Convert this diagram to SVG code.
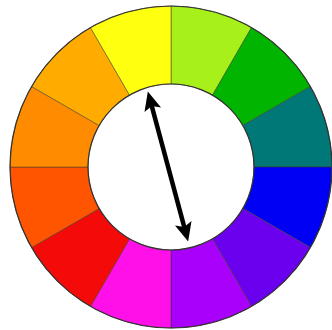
<svg xmlns="http://www.w3.org/2000/svg" width="332" height="330" viewBox="0 0 332 330">
  <defs>
    <style>
      .seg { stroke: #3a3a2a; stroke-width: 0.5; stroke-linejoin: round; }
      .rim { fill: none; stroke: #333; stroke-width: 1.2; }
      .arrow { stroke: #000; stroke-width: 4.5; fill: none; }
    </style>
    <marker id="head" viewBox="0 0 10 10" refX="5" refY="5" markerWidth="19" markerHeight="19" markerUnits="userSpaceOnUse" orient="auto-start-reverse">
      <path d="M0,0.5 L10,5 L0,9.5 L2,5 z" fill="#000"/>
    </marker>
  </defs>
  <rect width="332" height="330" fill="#fff"/>
  <g id="wheel">
    <g id="yellow-green"><path class="seg" fill="#a8f01a" d="M171,6 A161,161 0 0 1 251.5,27.57 L212.5,95.12 A83,83 0 0 0 171,84 Z"/></g>
    <g id="green"><path class="seg" fill="#00b400" d="M251.5,27.57 A161,161 0 0 1 310.43,86.5 L242.88,125.5 A83,83 0 0 0 212.5,95.12 Z"/></g>
    <g id="teal"><path class="seg" fill="#007878" d="M310.43,86.5 A161,161 0 0 1 332,167 L254,167 A83,83 0 0 0 242.88,125.5 Z"/></g>
    <g id="blue"><path class="seg" fill="#0000f5" d="M332,167 A161,161 0 0 1 310.43,247.5 L242.88,208.5 A83,83 0 0 0 254,167 Z"/></g>
    <g id="blue-violet"><path class="seg" fill="#6a00ee" d="M310.43,247.5 A161,161 0 0 1 251.5,306.43 L212.5,238.88 A83,83 0 0 0 242.88,208.5 Z"/></g>
    <g id="violet"><path class="seg" fill="#a800fa" d="M251.5,306.43 A161,161 0 0 1 171,328 L171,250 A83,83 0 0 0 212.5,238.88 Z"/></g>
    <g id="magenta"><path class="seg" fill="#ff10e8" d="M171,328 A161,161 0 0 1 90.5,306.43 L129.5,238.88 A83,83 0 0 0 171,250 Z"/></g>
    <g id="red"><path class="seg" fill="#f50a0a" d="M90.5,306.43 A161,161 0 0 1 31.57,247.5 L99.12,208.5 A83,83 0 0 0 129.5,238.88 Z"/></g>
    <g id="red-orange"><path class="seg" fill="#ff5500" d="M31.57,247.5 A161,161 0 0 1 10,167 L88,167 A83,83 0 0 0 99.12,208.5 Z"/></g>
    <g id="orange"><path class="seg" fill="#ff8c00" d="M10,167 A161,161 0 0 1 31.57,86.5 L99.12,125.5 A83,83 0 0 0 88,167 Z"/></g>
    <g id="yellow-orange"><path class="seg" fill="#ffab00" d="M31.57,86.5 A161,161 0 0 1 90.5,27.57 L129.5,95.12 A83,83 0 0 0 99.12,125.5 Z"/></g>
    <g id="yellow"><path class="seg" fill="#ffff10" d="M90.5,27.57 A161,161 0 0 1 171,6 L171,84 A83,83 0 0 0 129.5,95.12 Z"/></g>
    <circle class="rim" cx="171" cy="167" r="161"/>
    <circle class="rim" cx="171" cy="167" r="83"/>
  </g>
  <g id="connectors">
    <line class="arrow" x1="150.3" y1="100.6" x2="185.7" y2="232.4" marker-start="url(#head)" marker-end="url(#head)"/>
  </g>
</svg>
